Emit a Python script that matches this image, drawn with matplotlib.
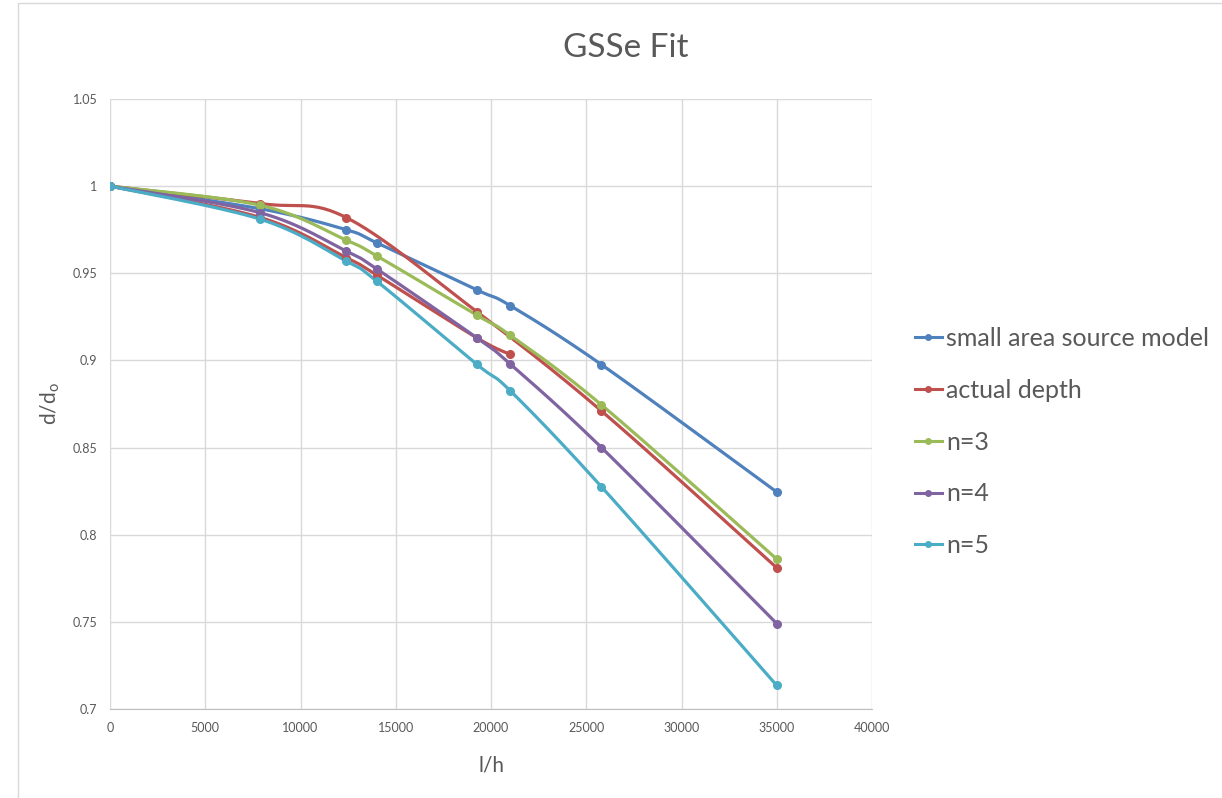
import numpy as np
import matplotlib
matplotlib.use("Agg")
from matplotlib import pyplot as plt
from matplotlib.patches import Rectangle

plt.rcParams['font.family'] = ['Lato', 'DejaVu Sans']

# data
x_vals = [0, 7900, 12400, 14000, 19250, 21000, 25800, 35000]
small_area = [1.0, 0.987, 0.975, 0.9675, 0.9405, 0.9315, 0.8976, 0.8245]
n3 = [1.0, 0.989, 0.969, 0.960, 0.926, 0.9145, 0.8745, 0.786]
n4 = [1.0, 0.9847, 0.9627, 0.9525, 0.913, 0.898, 0.850, 0.749]
n5 = [1.0, 0.981, 0.957, 0.9455, 0.8978, 0.8827, 0.8275, 0.7135]

# actual depth is drawn as two branches in the original
depth_x = [0, 7900, 12400, 19250, 25800, 35000]
depth_y = [1.0, 0.990, 0.982, 0.928, 0.871, 0.781]
depth_x2 = [0, 7900, 12400, 14000, 19250, 21000]
depth_y2 = [1.0, 0.982, 0.959, 0.949, 0.913, 0.9035]

colors = ['#4F81BD', '#C0504D', '#9BBB59', '#8064A2', '#4BACC6']


# Excel-like smoothed line (cubic bezier through points)
def smooth(xs, ys, steps=30):
  p = np.column_stack([xs, ys]).astype(float)
  n = len(p)
  out = []
  for i in range(n - 1):
    p0 = p[i - 1] if i > 0 else p[i]
    p3 = p[i + 2] if i + 2 < n else p[i + 1]
    c1 = p[i] + (p[i + 1] - p0) / 6.
    c2 = p[i + 1] - (p3 - p[i]) / 6.
    t = np.linspace(0, 1, steps)[:, None]
    seg = ((1 - t) ** 3) * p[i] + 3 * ((1 - t) ** 2) * t * c1 + 3 * (1 - t) * t ** 2 * c2 + t ** 3 * p[i + 1]
    out.append(seg if i == 0 else seg[1:])
  out = np.vstack(out)
  return out[:, 0], out[:, 1]


def draw(ax, xs, ys, color, label=None):
  sx, sy = smooth(xs, ys)
  ax.plot(sx, sy, color=color, lw=2.3, solid_capstyle='round', zorder=3)
  ax.plot(xs, ys, 'o', color=color, ms=5.5, zorder=4)
  if label:
    ax.plot([], [], '-o', color=color, lw=2.2, ms=4, label=label)


fig = plt.figure(figsize=(12.22, 7.98), dpi=100)
fig.patches.append(Rectangle((18 / 1222, -0.01), 1.0, 1.0 - 3 / 798 + 0.01, transform=fig.transFigure,
                             fill=False, edgecolor='#d9d9d9', lw=1))
ax = fig.add_axes([110 / 1222, 1 - 709 / 798, 762 / 1222, 610 / 798])

draw(ax, depth_x2, depth_y2, colors[1])
draw(ax, x_vals, small_area, colors[0], 'small area source model')
draw(ax, depth_x, depth_y, colors[1], 'actual depth')
draw(ax, x_vals, n3, colors[2], 'n=3')
draw(ax, x_vals, n4, colors[3], 'n=4')
draw(ax, x_vals, n5, colors[4], 'n=5')

ax.set_xlim(0, 40000)
ax.set_ylim(0.7, 1.05)
ax.set_xticks(range(0, 40001, 5000))
ax.set_yticks([0.7, 0.75, 0.8, 0.85, 0.9, 0.95, 1.0, 1.05])
ax.set_yticklabels(['0.7', '0.75', '0.8', '0.85', '0.9', '0.95', '1', '1.05'])
ax.grid(True, color='#d9d9d9', lw=1)
ax.set_axisbelow(True)
for s in ['top', 'right', 'left']:
  ax.spines[s].set_visible(False)
ax.spines['bottom'].set_color('#bfbfbf')
ax.tick_params(length=0, labelsize=9, labelcolor='#595959', pad=9)

ax.set_xlabel('l/h', fontsize=15, color='#595959', labelpad=16)
ax.set_ylabel('d/d$_\\mathregular{o}$', fontsize=15, color='#595959', labelpad=8)
fig.text(626 / 1222, 1 - 48 / 798, 'GSSe Fit', ha='center', va='center', fontsize=24, color='#595959')

fig.legend(loc='center left', bbox_to_anchor=(892 / 1222, 1 - 442 / 798), frameon=False,
           fontsize=18, labelcolor='#595959', labelspacing=1.15, handlelength=1.1, handletextpad=0.15)

fig.savefig('out.png', dpi=100)
